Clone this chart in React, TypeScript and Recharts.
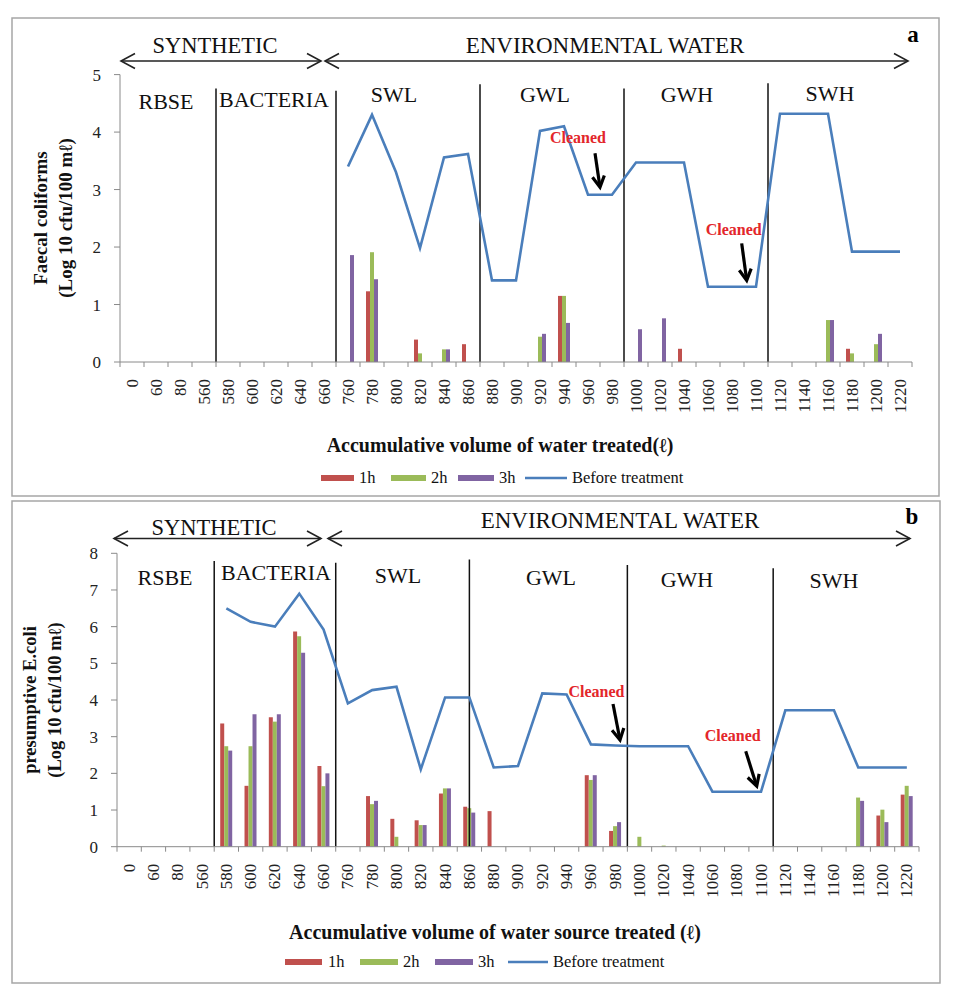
import React from "react";
import {
  ComposedChart,
  Bar,
  Line,
  XAxis,
  YAxis,
  ReferenceLine,
  ReferenceArea,
  ReferenceDot,
} from "recharts";

const SERIF = '"Liberation Serif", "Times New Roman", serif';

// accumulative volume treated (litres), one category per sampling point
const volumes = [
  "0", "60", "80", "560", "580", "600", "620", "640", "660", "760", "780",
  "800", "820", "840", "860", "880", "900", "920", "940", "960", "980",
  "1000", "1020", "1040", "1060", "1080", "1100", "1120", "1140", "1160",
  "1180", "1200", "1220",
];

// (a) faecal coliforms, log10 cfu/100 mL
const faecalBefore = [
  null, null, null, null, null, null, null, null, null,
  3.4, 4.3, 3.3, 1.98, 3.56, 3.62, 1.42, 1.42, 4.02, 4.1, 2.91, 2.91,
  3.47, 3.47, 3.47, 1.31, 1.31, 1.31, 4.32, 4.32, 4.32, 1.92, 1.92, 1.92,
];
const faecal1h = [
  null, null, null, null, null, null, null, null, null, null,
  1.23, null, 0.39, null, 0.31, null, null, null, 1.15, null, null,
  null, null, 0.23, null, null, null, null, null, null, 0.23, null, null,
];
const faecal2h = [
  null, null, null, null, null, null, null, null, null, null,
  1.91, null, 0.15, 0.22, null, null, null, 0.44, 1.15, null, null,
  null, null, null, null, null, null, null, null, 0.73, 0.15, 0.31, null,
];
const faecal3h = [
  null, null, null, null, null, null, null, null, null,
  1.86, 1.44, null, null, 0.22, null, null, null, 0.49, 0.68, null, null,
  0.57, 0.76, null, null, null, null, null, null, 0.73, null, 0.49, null,
];

// (b) presumptive E. coli, log10 cfu/100 mL
const ecoliBefore = [
  null, null, null, null,
  6.5, 6.13, 6.0, 6.9, 5.92, 3.91, 4.27, 4.36, 2.11, 4.07, 4.07, 2.16,
  2.2, 4.18, 4.15, 2.79, 2.76, 2.74, 2.74, 2.74, 1.5, 1.5, 1.5, 3.72,
  3.72, 3.72, 2.16, 2.16, 2.16,
];
const ecoli1h = [
  null, null, null, null,
  3.36, 1.66, 3.53, 5.87, 2.2, null, 1.38, 0.76, 0.72, 1.45, 1.09, 0.97,
  null, null, null, 1.95, 0.43, null, null, null, null, null, null, null,
  null, null, null, 0.85, 1.42,
];
const ecoli2h = [
  null, null, null, null,
  2.74, 2.74, 3.41, 5.74, 1.65, null, 1.16, 0.27, 0.59, 1.59, 1.05, null,
  null, null, null, 1.82, 0.56, 0.27, 0.03, null, null, null, null, null,
  null, null, 1.34, 1.01, 1.66,
];
const ecoli3h = [
  null, null, null, null,
  2.62, 3.61, 3.61, 5.29, 2.0, null, 1.25, null, 0.59, 1.59, 0.93, null,
  null, null, null, 1.95, 0.67, null, null, null, null, null, null, null,
  null, null, 1.25, 0.67, 1.38,
];

const faecalTicks = [0, 1, 2, 3, 4, 5];
const ecoliTicks = [0, 1, 2, 3, 4, 5, 6, 7, 8];

const buildRows = (h1, h2, h3, before) =>
  volumes.map((vol, i) => ({ vol, h1: h1[i], h2: h2[i], h3: h3[i], before: before[i] }));

const faecalRows = buildRows(faecal1h, faecal2h, faecal3h, faecalBefore);
const ecoliRows = buildRows(ecoli1h, ecoli2h, ecoli3h, ecoliBefore);

const RED = "#C0504D";
const GREEN = "#9BBB59";
const PURPLE = "#8064A2";
const BLUE = "#4A7EBB";
const AXIS = "#8a8a8a";

// Excel-style: tick marks sit on the category boundaries, labels read upwards
const VolumeTick = ({ x, y, payload, index }: any) => {
  const half = payload && payload.offset ? payload.offset : 12;
  return (
    <g>
      <line x1={x - half} y1={y} x2={x - half} y2={y + 5} stroke={AXIS} />
      {index === volumes.length - 1 && (
        <line x1={x + half} y1={y} x2={x + half} y2={y + 5} stroke={AXIS} />
      )}
      <text
        x={x}
        y={y + 17}
        transform={`rotate(-90, ${x}, ${y + 17})`}
        textAnchor="end"
        dominantBaseline="central"
        fontSize={17}
        fontFamily={SERIF}
        fill="#222"
      >
        {payload.value}
      </text>
    </g>
  );
};

const CleanedMark = ({ cx, cy, dx, tx, ty, ax, ay }: any) => {
  const px = cx + dx;
  const len = Math.hypot(ax, ay);
  const ux = -ax / len;
  const uy = -ay / len;
  const hl = 11;
  const hw = 6;
  const bx = px - ux * hl;
  const by = cy - uy * hl;
  return (
    <g>
      <text
        x={px + tx}
        y={cy + ty}
        textAnchor="middle"
        fontSize={16}
        fontWeight="bold"
        fontFamily={SERIF}
        fill="#E3262B"
      >
        Cleaned
      </text>
      <line x1={px + ax} y1={cy + ay} x2={px - ux * 2} y2={cy - uy * 2} stroke="#000" strokeWidth={3.2} />
      <polyline
        points={`${bx - uy * hw},${by + ux * hw} ${px},${cy} ${bx + uy * hw},${by - ux * hw}`}
        fill="none"
        stroke="#000"
        strokeWidth={3.2}
      />
    </g>
  );
};

const Panel = ({ rows, yMax, yTicks, top, height, margin, dividers, marks }: any) => (
  <div style={{ position: "absolute", left: 0, top }}>
    <ComposedChart width={961} height={height} data={rows} margin={margin} barGap={0} barSize={4}>
      <XAxis
        dataKey="vol"
        type="category"
        interval={0}
        tickLine={false}
        tickSize={0}
        tickMargin={0}
        height={60}
        stroke={AXIS}
        tick={<VolumeTick />}
      />
      <XAxis xAxisId="top" dataKey="vol" orientation="top" height={0} tick={false} tickLine={false} stroke="#a0a0a0" />
      <YAxis
        domain={[0, yMax]}
        ticks={yTicks}
        interval={0}
        width={40}
        tickSize={6}
        tickMargin={13}
        stroke={AXIS}
        tick={{ fill: "#222", fontSize: 17, fontFamily: SERIF }}
      />
      <YAxis yAxisId="right" orientation="right" width={0} tick={false} tickLine={false} stroke="#a0a0a0" />
      {dividers.map((d: any, i: number) => (
        <ReferenceLine
          key={i}
          segment={[{ x: d.x, y: 0 }, { x: d.x, y: d.top }]}
          position={d.pos}
          stroke="#111"
          strokeWidth={1.5}
        />
      ))}
      <Bar dataKey="h1" name="1h" fill={RED} isAnimationActive={false} />
      <Bar dataKey="h2" name="2h" fill={GREEN} isAnimationActive={false} />
      <Bar dataKey="h3" name="3h" fill={PURPLE} isAnimationActive={false} />
      <Line
        dataKey="before"
        name="Before treatment"
        type="linear"
        stroke={BLUE}
        strokeWidth={2.6}
        dot={false}
        activeDot={false}
        isAnimationActive={false}
      />
      {marks.map((m: any, i: number) => (
        <ReferenceDot
          key={i}
          x={m.x}
          y={m.y}
          r={0}
          ifOverflow="visible"
          shape={(p: any) => <CleanedMark {...p} dx={m.dx} tx={m.tx} ty={m.ty} ax={m.ax} ay={m.ay} />}
        />
      ))}
    </ComposedChart>
  </div>
);

const DoubleArrow = ({ x1, x2, y }: any) => (
  <g stroke="#222" strokeWidth={1.6} fill="none">
    <line x1={x1} y1={y} x2={x2} y2={y} />
    <polyline points={`${x1 + 14},${y - 7.5} ${x1},${y} ${x1 + 14},${y + 7.5}`} />
    <polyline points={`${x2 - 14},${y - 7.5} ${x2},${y} ${x2 - 14},${y + 7.5}`} />
  </g>
);

const Legend = ({ items, y }: any) => (
  <g fontFamily={SERIF} fontSize={16.5} fill="#111">
    {items.map((it: any, i: number) =>
      it.kind === "bar" ? (
        <g key={i}>
          <rect x={it.x} y={y - 3} width={it.w} height={6} fill={it.color} />
          <text x={it.tx} y={y + 5}>{it.label}</text>
        </g>
      ) : (
        <g key={i}>
          <line x1={it.x} y1={y} x2={it.x + it.w} y2={y} stroke={BLUE} strokeWidth={2.5} />
          <text x={it.tx} y={y + 5}>{it.label}</text>
        </g>
      )
    )}
  </g>
);

const regionText = (label: string, x: number, y: number, key: string) => (
  <text key={key} x={x} y={y} textAnchor="middle" fontSize={22} fontFamily={SERIF} fill="#111">
    {label}
  </text>
);

const Overlay = () => (
  <svg width={961} height={1000} style={{ position: "absolute", left: 0, top: 0, pointerEvents: "none" }}>
    <rect x={12} y={18} width={927} height={478} fill="none" stroke="#a6a6a6" strokeWidth={1.5} />
    <rect x={12} y={501} width={928} height={482} fill="none" stroke="#a6a6a6" strokeWidth={1.5} />

    {/* panel a header */}
    <text x={215} y={53} textAnchor="middle" fontSize={22.5} fontFamily={SERIF} fill="#111">SYNTHETIC</text>
    <text x={605} y={53} textAnchor="middle" fontSize={23} fontFamily={SERIF} fill="#111">ENVIRONMENTAL WATER</text>
    <DoubleArrow x1={121} x2={321} y={61} />
    <DoubleArrow x1={325} x2={908} y={61} />
    <text x={913} y={42} textAnchor="middle" fontSize={23} fontWeight="bold" fontFamily={SERIF}>a</text>
    {regionText("RBSE", 166, 109, "a1")}
    {regionText("BACTERIA", 274, 107, "a2")}
    {regionText("SWL", 394, 102, "a3")}
    {regionText("GWL", 545, 102, "a4")}
    {regionText("GWH", 687, 102, "a5")}
    {regionText("SWH", 830, 101, "a6")}

    <g fontFamily={SERIF} fontWeight="bold" fill="#111" fontSize={19} textAnchor="middle">
      <text transform="rotate(-90)" x={-218} y={47}>Faecal coliforms</text>
      <text transform="rotate(-90)" x={-218} y={72}>(Log 10 cfu/100 mℓ)</text>
    </g>
    <text x={500} y={452} textAnchor="middle" fontSize={20} fontWeight="bold" fontFamily={SERIF} fill="#111">
      Accumulative volume of water treated(ℓ)
    </text>
    <Legend
      y={478}
      items={[
        { kind: "bar", x: 321, w: 33, tx: 359, color: RED, label: "1h" },
        { kind: "bar", x: 391, w: 35, tx: 431, color: GREEN, label: "2h" },
        { kind: "bar", x: 458, w: 36, tx: 499, color: PURPLE, label: "3h" },
        { kind: "line", x: 525, w: 42, tx: 572, label: "Before treatment" },
      ]}
    />

    {/* panel b header */}
    <text x={214} y={535} textAnchor="middle" fontSize={22.5} fontFamily={SERIF} fill="#111">SYNTHETIC</text>
    <text x={620} y={528} textAnchor="middle" fontSize={23} fontFamily={SERIF} fill="#111">ENVIRONMENTAL WATER</text>
    <DoubleArrow x1={114} x2={321} y={538.5} />
    <DoubleArrow x1={328} x2={910} y={538.5} />
    <text x={912} y={524} textAnchor="middle" fontSize={23} fontWeight="bold" fontFamily={SERIF}>b</text>
    {regionText("RSBE", 165, 585, "b1")}
    {regionText("BACTERIA", 276, 580, "b2")}
    {regionText("SWL", 398, 583, "b3")}
    {regionText("GWL", 551, 585, "b4")}
    {regionText("GWH", 687, 587, "b5")}
    {regionText("SWH", 834, 588, "b6")}

    <g fontFamily={SERIF} fontWeight="bold" fill="#111" fontSize={18.5} textAnchor="middle">
      <text transform="rotate(-90)" x={-700} y={36}>presumptive E.coli</text>
      <text transform="rotate(-90)" x={-700} y={61}>(Log 10 cfu/100 mℓ)</text>
    </g>
    <text x={495} y={939} textAnchor="middle" fontSize={20} fontWeight="bold" fontFamily={SERIF} fill="#111">
      Accumulative volume of water source treated (ℓ)
    </text>
    <Legend
      y={962}
      items={[
        { kind: "bar", x: 285, w: 37, tx: 328, color: RED, label: "1h" },
        { kind: "bar", x: 360, w: 38, tx: 403, color: GREEN, label: "2h" },
        { kind: "bar", x: 435, w: 38, tx: 478, color: PURPLE, label: "3h" },
        { kind: "line", x: 508, w: 40, tx: 553, label: "Before treatment" },
      ]}
    />
  </svg>
);

export default function App() {
  return (
    <div style={{ position: "absolute", left: 0, top: 0, width: 961, height: 1000, background: "#fff" }}>
      <Panel
        rows={faecalRows}
        yMax={5}
        yTicks={faecalTicks}
        top={0}
        height={497}
        margin={{ top: 74.6, right: 49, bottom: 75, left: 80 }}
        dividers={[
          { x: "580", pos: "start", top: 4.76 },
          { x: "760", pos: "start", top: 4.72 },
          { x: "880", pos: "start", top: 4.83 },
          { x: "1000", pos: "start", top: 4.76 },
          { x: "1120", pos: "start", top: 4.85 },
        ]}
        marks={[
          { x: "960", dx: 12, y: 3.04, tx: -22, ty: -44, ax: -5, ay: -34 },
          { x: "1100", dx: -9.3, y: 1.42, tx: -13, ty: -45, ax: -5, ay: -37 },
        ]}
      />
      <Panel
        rows={ecoliRows}
        yMax={8}
        yTicks={ecoliTicks}
        top={500}
        height={483}
        margin={{ top: 53.3, right: 42, bottom: 76.3, left: 77 }}
        dividers={[
          { x: "580", pos: "start", top: 7.79 },
          { x: "760", pos: "start", top: 7.74 },
          { x: "860", pos: "middle", top: 7.83 },
          { x: "1000", pos: "start", top: 7.68 },
          { x: "1120", pos: "start", top: 7.59 },
        ]}
        marks={[
          { x: "980", dx: 4.8, y: 2.91, tx: -23.5, ty: -43, ax: -7, ay: -36 },
          { x: "1100", dx: -4.3, y: 1.65, tx: -24, ty: -45, ax: -11, ay: -35 },
        ]}
      />
      <Overlay />
    </div>
  );
}
